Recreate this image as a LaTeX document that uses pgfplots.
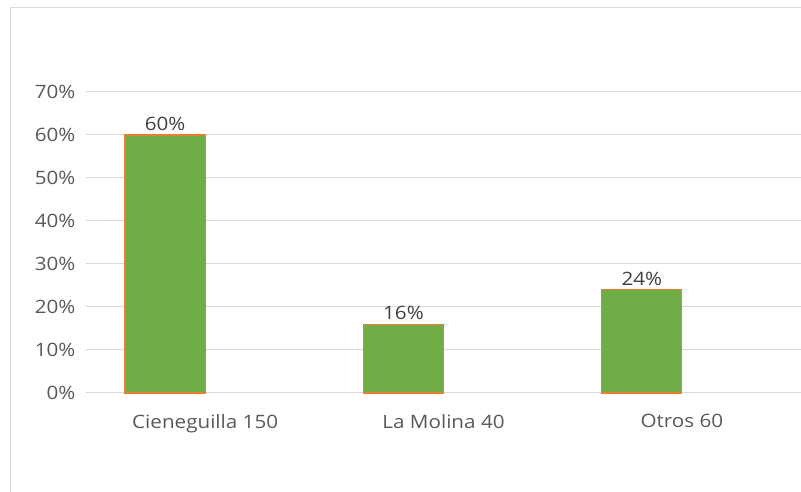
\documentclass[border=0pt]{standalone}
\usepackage{fontspec}
\setmainfont{Open Sans}[FakeStretch=1.12]
\usepackage{pgfplots}
\pgfplotsset{compat=1.18}
\definecolor{barfill}{HTML}{70AD47}
\definecolor{baredge}{HTML}{ED7D31}
\definecolor{gridgray}{HTML}{D9D9D9}
\definecolor{txtgray}{HTML}{595959}
\definecolor{lblgray}{HTML}{404040}
\begin{document}
\begin{tikzpicture}[x=1bp,y=1bp]
\useasboundingbox (0,0) rectangle (801,492);
% chart frame
\draw[gridgray, line width=1bp] (10,0) -- (10,484) -- (801,484);
\begin{axis}[
    at={(86bp,99bp)}, anchor=south west,
    scale only axis, width=715bp, height=301bp,
    ybar, bar width=0.336, bar shift=-0.168,
    xmin=-0.5, xmax=2.5, ymin=0, ymax=70,
    xtick={0,1,2}, xticklabels={Cieneguilla 150, La Molina 40, Otros 60},
    ytick={0,10,...,70},
    yticklabel={\pgfmathprintnumber{\tick}\%},
    /pgf/number format/assume math mode=true,
    axis line style={draw=none},
    ymajorgrids, grid style={gridgray, line width=1bp},
    major tick length=0pt,
    tick label style={font=\fontsize{18.5}{20}\selectfont, text=txtgray},
    yticklabel style={xshift=-7bp},
    xticklabel style={yshift=-18bp},
    nodes near coords={\pgfmathprintnumber{\pgfplotspointmeta}\%},
    nodes near coords style={font=\fontsize{18.5}{20}\selectfont, text=lblgray, inner sep=4bp},
    clip=false,
]
\addplot[fill=barfill, draw=baredge, line width=1.2bp]
    coordinates {(0,60) (1,16) (2,24)};
\end{axis}
\end{tikzpicture}
\end{document}
